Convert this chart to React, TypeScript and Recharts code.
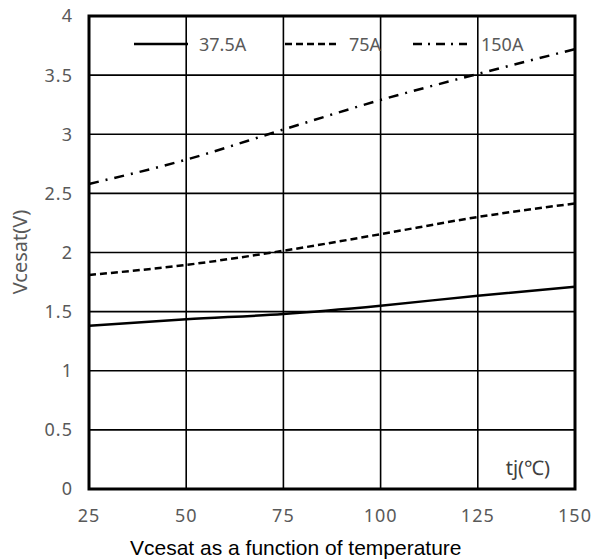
import { CartesianGrid, Label, Legend, Line, LineChart, ReferenceArea, XAxis, YAxis } from 'recharts';

const temps = [25, 50, 75, 100, 125, 150];
const v375 = [1.38, 1.435, 1.48, 1.55, 1.635, 1.71];
const v75 = [1.81, 1.895, 2.015, 2.155, 2.3, 2.415];
const v150 = [2.58, 2.785, 3.04, 3.29, 3.51, 3.72];
const xTicks = [25, 50, 75, 100, 125, 150];
const yTicks = [0, 0.5, 1, 1.5, 2, 2.5, 3, 3.5, 4];

const data = temps.map((t, i) => ({ t, a: v375[i], b: v75[i], c: v150[i] }));

const legendItems = [
  { name: '37.5A', dash: undefined, lx: 134, lw: 54, tx: 199 },
  { name: '75A', dash: '7 4', lx: 285, lw: 52, tx: 349 },
  { name: '150A', dash: '9 6 2 6', lx: 413, lw: 54, tx: 481 },
];

const gray = '#595959';
const tickFont = { fontSize: 18, fill: gray, fontFamily: 'Noto Sans, sans-serif', letterSpacing: 1 };

function LegendBox() {
  return (
    <svg width={597} height={26} style={{ display: 'block' }}>
      {legendItems.map((it) => (
        <g key={it.name}>
          <line x1={it.lx} x2={it.lx + it.lw} y1={13} y2={13} stroke="#000" strokeWidth={2.5} strokeDasharray={it.dash} />
          <text x={it.tx} y={20} fontSize={18} fill={gray} fontFamily="Noto Sans, sans-serif">
            {it.name}
          </text>
        </g>
      ))}
    </svg>
  );
}

export default function App() {
  return (
    <div style={{ position: 'absolute', left: 0, top: 0, background: '#fff' }}>
      <LineChart width={597} height={559} data={data} margin={{ top: 16, right: 22, bottom: 0, left: 0 }}>
        <CartesianGrid stroke="#000" strokeWidth={1.6} horizontalValues={yTicks} verticalValues={xTicks} />
        <XAxis
          dataKey="t"
          type="number"
          domain={[25, 150]}
          ticks={xTicks}
          tickLine={false}
          tickSize={0}
          tickMargin={20}
          axisLine={false}
          height={70}
          tick={tickFont}
        >
          <Label
            content={({ viewBox }: any) => (
              <g>
                <text
                  x={viewBox.x + 41}
                  y={viewBox.y + 66}
                  textAnchor="start"
                  fontSize={21}
                  fill="#000"
                  fontFamily="Liberation Sans, Arial, sans-serif"
                >
                  Vcesat as a function of temperature
                </text>
                <text
                  x={viewBox.x + viewBox.width - 25}
                  y={viewBox.y - 14}
                  textAnchor="end"
                  fontSize={20}
                  fill="#404040"
                  fontFamily="Noto Sans, sans-serif"
                >
                  tj(℃)
                </text>
              </g>
            )}
          />
        </XAxis>
        <YAxis
          type="number"
          domain={[0, 4]}
          ticks={yTicks}
          width={89}
          tickLine={false}
          tickSize={0}
          tickMargin={16}
          axisLine={false}
          tick={tickFont}
        >
          <Label
            content={() => (
              <text
                x={0}
                y={0}
                transform="translate(27 252) rotate(-90)"
                textAnchor="middle"
                fontSize={20}
                fill={gray}
                fontFamily="Noto Sans, sans-serif"
              >
                Vcesat(V)
              </text>
            )}
          />
        </YAxis>
        <ReferenceArea x1={25} x2={150} y1={0} y2={4} fill="none" stroke="#000" strokeWidth={3} ifOverflow="visible" />
        <Legend
          layout="horizontal"
          verticalAlign="middle"
          align="center"
          content={() => <LegendBox />}
          wrapperStyle={{ top: 31, left: 0, width: 597 }}
        />
        <Line dataKey="a" name="37.5A" type="monotone" stroke="#000" strokeWidth={2.5} dot={false} isAnimationActive={false} />
        <Line dataKey="b" name="75A" type="monotone" stroke="#000" strokeWidth={2.5} strokeDasharray="7 4" dot={false} isAnimationActive={false} />
        <Line dataKey="c" name="150A" type="monotone" stroke="#000" strokeWidth={2.5} strokeDasharray="10 7 2 7" dot={false} isAnimationActive={false} />
      </LineChart>
    </div>
  );
}
